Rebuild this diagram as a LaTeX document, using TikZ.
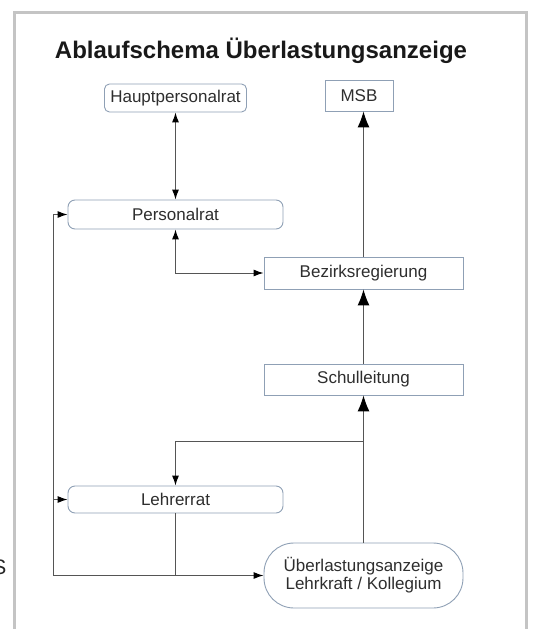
\documentclass[tikz,border=0pt]{standalone}
\usepackage{fontspec}
\setmainfont{Liberation Sans}
\usetikzlibrary{arrows.meta}
\definecolor{boxc}{HTML}{8FA0B5}
\definecolor{linec}{HTML}{555555}
\definecolor{framec}{HTML}{C4C4C4}
\definecolor{txt}{HTML}{2E2E2E}
\begin{document}
\begin{tikzpicture}[x=1pt,y=-1pt,
  box/.style={draw=boxc, line width=0.9pt, fill=white, inner sep=0pt, text=txt,
              font=\fontsize{17}{18}\selectfont, align=center},
  rbox/.style={box, rounded corners=7pt},
  conn/.style={draw=linec, line width=1pt},
  sarr/.style={-{Latex[length=10pt,width=7pt,color=black]}},
  darr/.style={{Latex[length=10pt,width=7pt,color=black]}-{Latex[length=10pt,width=7pt,color=black]}},
  barr/.style={-{Latex[length=16pt,width=12pt,color=black]}}
]
\useasboundingbox (0,0) rectangle (535,629);
\draw[framec, line width=3pt] (14,640) -- (14,12) -- (526,12) -- (526,640);

\node[anchor=base, font=\bfseries\fontsize{24}{28}\selectfont, text=black!90] (title) at (261,58) {Ablaufschema Überlastungsanzeige};
\node[anchor=base east, font=\fontsize{21}{24}\selectfont, inner sep=0pt, text=black!85] (stray) at (6.5,574) {S};

\node[rbox, rounded corners=5pt, minimum width=142pt, minimum height=28pt] (haupt) at (175.5,98) {Hauptpersonalrat};
\node[box, minimum width=68pt, minimum height=31pt] (msb) at (359,95.5) {MSB};
\node[rbox, minimum width=215pt, minimum height=29pt] (pers) at (175.5,214.5) {Personalrat};
\node[box, minimum width=199pt, minimum height=32pt] (bez) at (363.5,273) {Bezirksregierung};
\node[box, minimum width=199pt, minimum height=31pt] (schul) at (363.5,379.5) {Schulleitung};
\node[rbox, minimum width=215pt, minimum height=27pt] (lehr) at (175.5,499.5) {Lehrerrat};
\node[box, rounded corners=30pt, minimum width=199pt, minimum height=65pt] (ueb) at (363.5,575.5) {Überlastungsanzeige\\Lehrkraft / Kollegium};

\coordinate (br) at (363.5,441);
\coordinate (lb) at (53,575.5);
\coordinate (jn) at (175.5,575.5);

\draw[conn, darr] (haupt.south) -- (pers.north);
\draw[conn, darr] (pers.south) |- (bez.west);
\draw[conn, barr] (schul.north) -- (bez.south);
\draw[conn, barr] (bez.north) -- (bez.north |- msb.south);
\draw[conn, barr] (ueb.north) -- (schul.south);
\draw[conn, sarr] (br) -| (lehr.north);
\draw[conn] (lehr.south) -- (jn);
\draw[conn, sarr] (lb) |- (pers.west);
\draw[conn, sarr] (lb |- lehr.west) -- (lehr.west);
\draw[conn, sarr] (lb) -- (ueb.west);
\end{tikzpicture}
\end{document}
